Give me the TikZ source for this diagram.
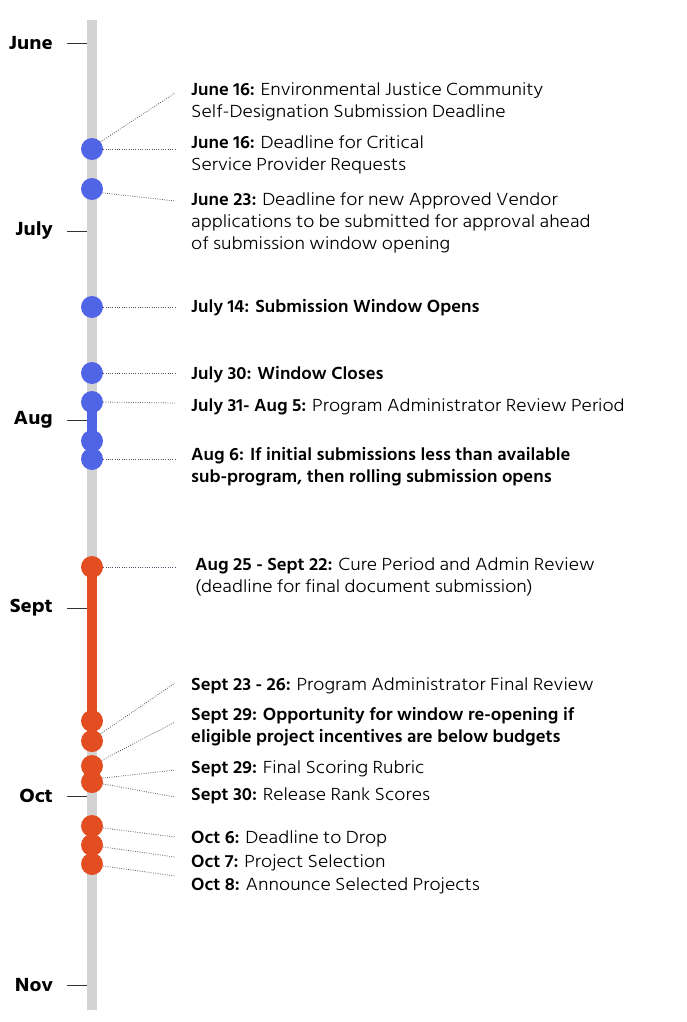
\documentclass[tikz,border=0pt]{standalone}
\usepackage{fontspec}
\setmainfont{Hind Siliguri}[UprightFont=* Light, BoldFont=* SemiBold, UprightFeatures={FakeStretch=1.1}, BoldFeatures={FakeStretch=1.03}]
\newfontfamily\monthfont{Hind Siliguri}[UprightFont=* Bold, FakeStretch=1.08]
\definecolor{barblue}{HTML}{5064E6}
\definecolor{barorange}{HTML}{E24E22}
\definecolor{bargray}{HTML}{D3D3D3}
\definecolor{conngray}{HTML}{50506A}
\tikzset{
  bdot/.style={circle,fill=barblue,minimum size=22pt,inner sep=0pt},
  odot/.style={circle,fill=barorange,minimum size=22pt,inner sep=0pt},
  conn/.style={conngray,line width=0.8pt,dash pattern=on 0.8pt off 1.5pt},
  tick/.style={black!80,line width=0.9pt},
  month/.style={anchor=east,inner sep=0pt,font=\monthfont\fontsize{19.5}{22}\selectfont},
  evt/.style={anchor=north west,inner sep=0pt,align=left,font=\fontsize{18}{22}\selectfont},
  evtb/.style={evt,font=\fontsize{18}{22}\selectfont\bfseries},
}
\begin{document}
\begin{tikzpicture}[x=1pt,y=-1pt]
\useasboundingbox (0,0) rectangle (687,1022);
% main bar
\coordinate (bartop) at (92,20);
\coordinate (barbot) at (92,1010);
\draw[bargray,line width=10pt] (bartop) -- (barbot);
% months
\foreach \m/\y/\n in {June/43/mjun,July/231/mjul,Aug/420/maug,Sept/608/msep,Oct/796/moct,Nov/985/mnov}{
  \node[month] (\n) at (53,\y) {\m};
  \coordinate (\n t) at (87,\y);
  \draw[tick] (67,\y) -- (\n t);
}
% coloured spans
\coordinate (bs) at (92,402);
\coordinate (be) at (92,459);
\coordinate (os) at (92,567);
\coordinate (oe) at (92,721);
\draw[barblue,line width=10pt] (bs) -- (be);
\draw[barorange,line width=10pt] (os) -- (oe);
% dots
\node[bdot] (b1) at (92,149) {};
\node[bdot] (b2) at (92,189) {};
\node[bdot] (b3) at (92,307) {};
\node[bdot] (b4) at (92,373) {};
\node[bdot] (b5) at (92,402) {};
\node[bdot] (b6) at (92,441) {};
\node[bdot] (b7) at (92,459) {};
\node[odot] (o1) at (92,567) {};
\node[odot] (o2) at (92,721) {};
\node[odot] (o3) at (92,741) {};
\node[odot] (o4) at (92,766) {};
\node[odot] (o5) at (92,782) {};
\node[odot] (o6) at (92,826) {};
\node[odot] (o7) at (92,845) {};
\node[odot] (o8) at (92,864) {};
% connector ends
\coordinate (e1) at (175,93);
\coordinate (e2) at (175,149);
\coordinate (e3) at (175,201);
\coordinate (e4) at (175,307);
\coordinate (e5) at (175,373);
\coordinate (e6) at (175,403);
\coordinate (e7) at (175,459);
\coordinate (e8) at (175,567);
\coordinate (e9) at (175,683);
\coordinate (e10) at (175,722);
\coordinate (e11) at (175,770);
\coordinate (e12) at (175,797);
\coordinate (e13) at (175,837);
\coordinate (e14) at (175,857);
\coordinate (e15) at (175,876);
% connectors
\draw[conn] (b1.40) -- (e1);
\draw[conn] (b1.east) -- (e2);
\draw[conn] (b2.-20) -- (e3);
\draw[conn] (b3.east) -- (e4);
\draw[conn] (b4.east) -- (e5);
\draw[conn] (b5.east) -- (e6);
\draw[conn] (b7.east) -- (e7);
\draw[conn] (o1.east) -- (e8);
\draw[conn] (o3.40) -- (e9);
\draw[conn] (o4.30) -- (e10);
\draw[conn] (o5.20) -- (e11);
\draw[conn] (o5.-10) -- (e12);
\draw[conn] (o6.-10) -- (e13);
\draw[conn] (o7.-10) -- (e14);
\draw[conn] (o8.-10) -- (e15);
% texts
\node[evt] (t1) at (191,82) {\textbf{June 16:} Environmental Justice Community\\Self-Designation Submission Deadline};
\node[evt] (t2) at (191,135) {\textbf{June 16:} Deadline for Critical\\Service Provider Requests};
\node[evt] (t3) at (191,192) {\textbf{June 23:} Deadline for new Approved Vendor\\applications to be submitted for approval ahead\\of submission window opening};
\node[evtb] (t4) at (191,299) {July 14: Submission Window Opens};
\node[evtb] (t5) at (191,366) {July 30: Window Closes};
\node[evt] (t6) at (191,398) {\textbf{July 31- Aug 5:} Program Administrator Review Period};
\node[evtb] (t7) at (191,447) {Aug 6: If initial submissions less than available\\sub-program, then rolling submission opens};
\node[evt] (t8) at (195,557) {\textbf{Aug 25 - Sept 22:} Cure Period and Admin Review\\(deadline for final document submission)};
\node[evt] (t9) at (191,677) {\textbf{Sept 23 - 26:} Program Administrator Final Review};
\node[evtb] (t10) at (191,707) {Sept 29: Opportunity for window re-opening if\\eligible project incentives are below budgets};
\node[evt] (t11) at (191,760) {\textbf{Sept 29:} Final Scoring Rubric};
\node[evt] (t12) at (191,788) {\textbf{Sept 30:} Release Rank Scores};
\node[evt] (t13) at (191,830) {\textbf{Oct 6:} Deadline to Drop};
\node[evt] (t14) at (191,854) {\textbf{Oct 7:} Project Selection};
\node[evt] (t15) at (191,877) {\textbf{Oct 8:} Announce Selected Projects};
\end{tikzpicture}
\end{document}
